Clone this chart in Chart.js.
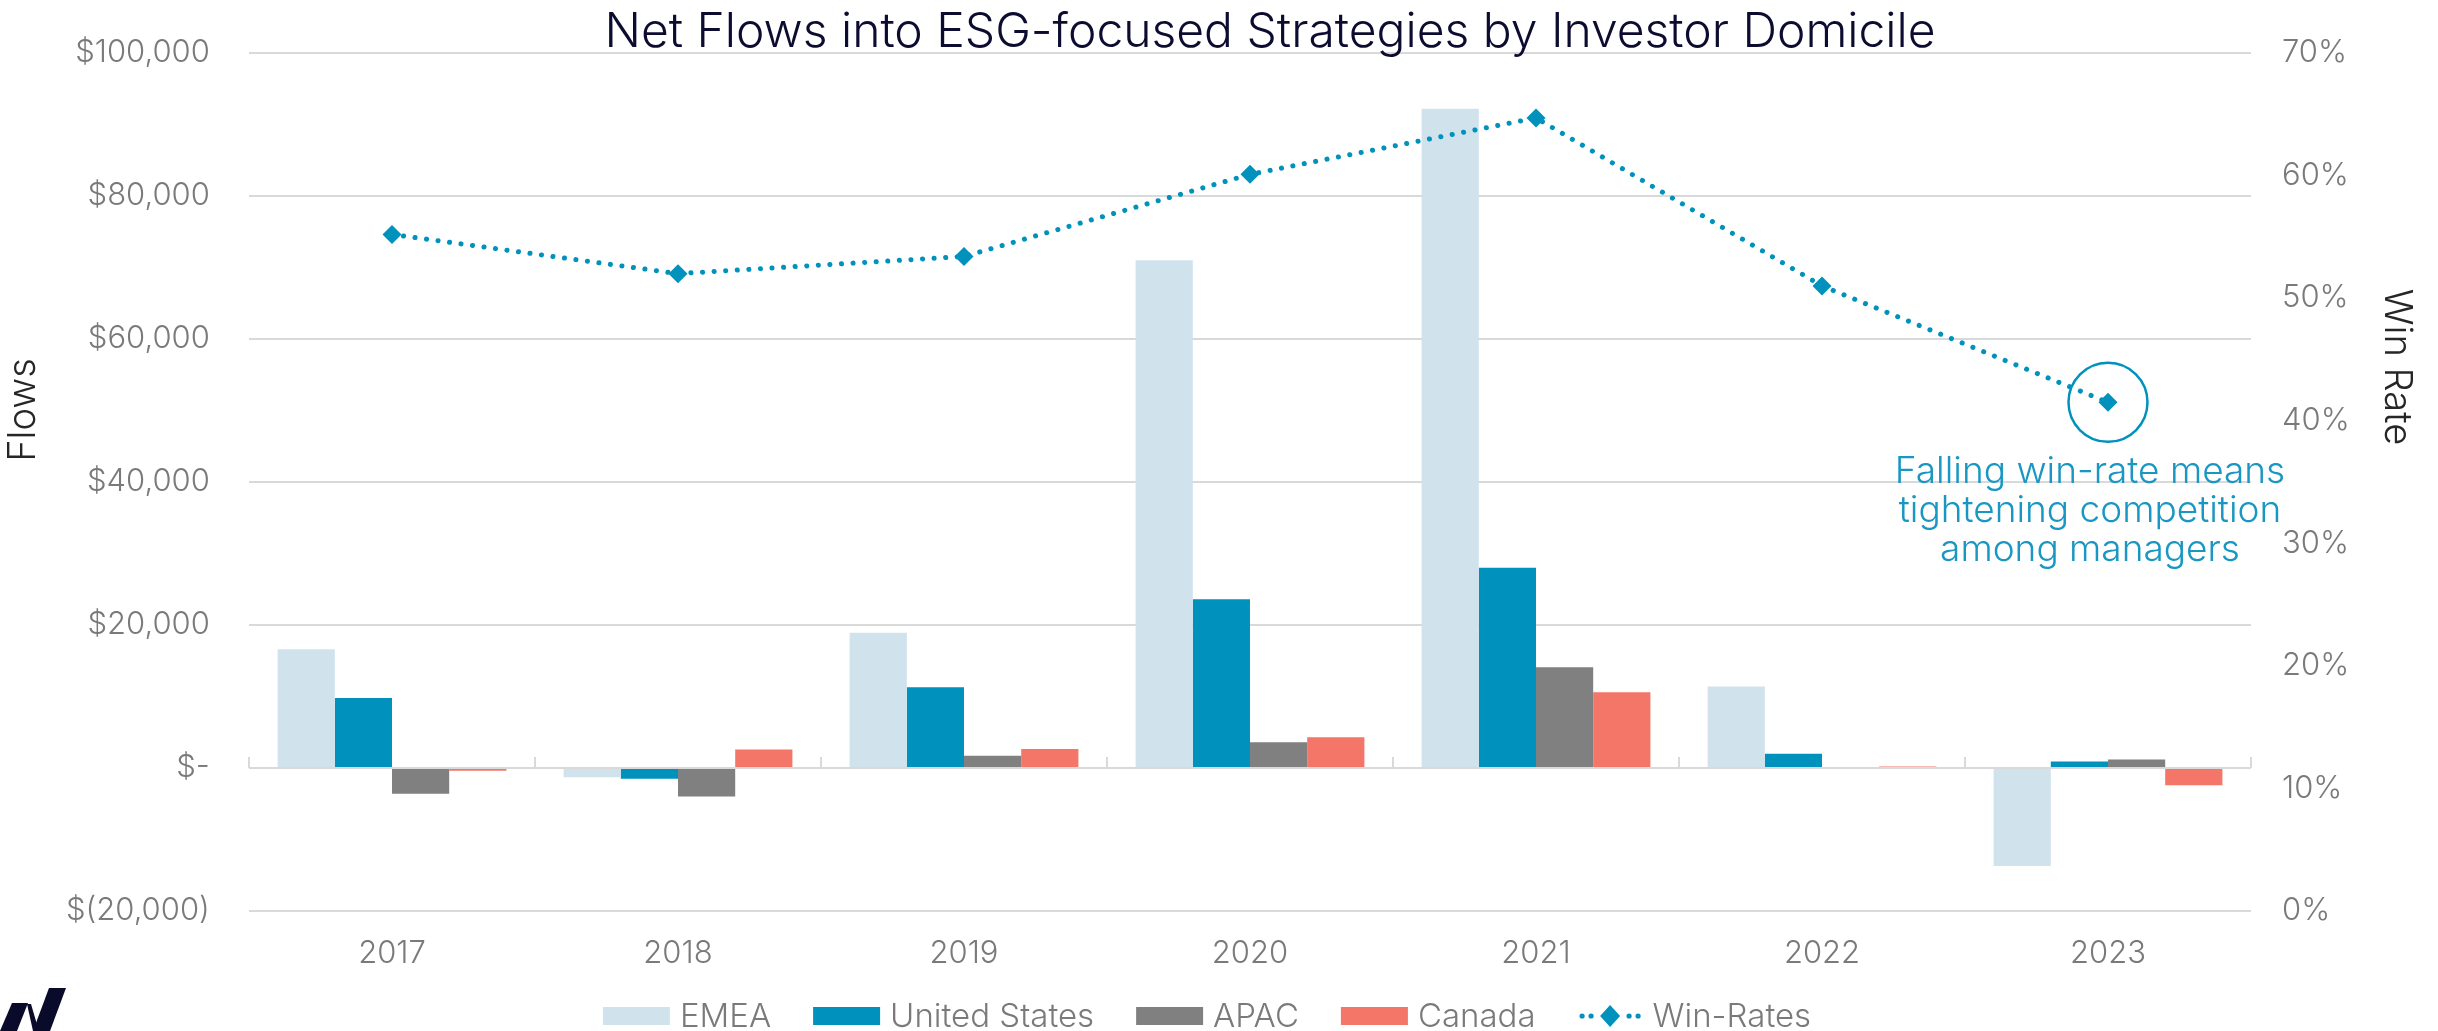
<!DOCTYPE html>
<html>
<head>
<meta charset="utf-8">
<script src="https://cdn.jsdelivr.net/npm/chart.js@4.4.1/dist/chart.umd.min.js"></script>
<style>
html,body{margin:0;padding:0;background:#fff;overflow:hidden}
canvas{display:block}
</style>
</head>
<body>
<canvas id="c" width="2438" height="1031"></canvas>
<script>
// ---------- data ----------
const categories = ['2017', '2018', '2019', '2020', '2021', '2022', '2023'];
const emea = [16600, -1300, 18900, 71000, 92200, 11400, -13700];
const unitedStates = [9800, -1500, 11300, 23600, 28000, 2000, 900];
const apac = [-3600, -4000, 1700, 3600, 14100, 0, 1200];
const canada = [-400, 2600, 2650, 4300, 10600, 200, -2400];
const winRates = [55.2, 52.0, 53.4, 60.1, 64.7, 51.0, 41.5];
const seriesNames = ['EMEA', 'United States', 'APAC', 'Canada', 'Win-Rates'];
const flowAxisRange = [-20000, 100000, 20000];
const winRateAxisRange = [0, 70, 10];
const titleText = 'Net Flows into ESG-focused Strategies by Investor Domicile';
const leftAxisTitle = 'Flows';
const rightAxisTitle = 'Win Rate';
const noteLines = ['Falling win-rate means', 'tightening competition', 'among managers'];

// ---------- styles ----------
const COLORS = { emea: '#d0e3ec', us: '#0091bd', apac: '#808080', canada: '#f37668', line: '#0092bc' };
const FONT = 'Inter, "Noto Sans", "DejaVu Sans", sans-serif';
const TICK_COLOR = '#7a7a7a';
const GRID_COLOR = '#d9d9d9';

function flowLabel(v) {
  let s;
  if (v === 0) s = '$-';
  else {
    const a = Math.abs(v).toLocaleString('en-US');
    s = v < 0 ? '$(' + a + ')' : '$' + a;
  }
  return s + '\u2006';
}

const decorPlugin = {
  id: 'decor',
  beforeDatasetsDraw(chart) {
    const ctx = chart.ctx, x = chart.scales.x, y = chart.scales.y;
    const y0 = y.getPixelForValue(0);
    const n = categories.length;
    ctx.save();
    ctx.strokeStyle = GRID_COLOR;
    ctx.lineWidth = 2;
    ctx.beginPath();
    for (let i = 0; i <= n; i++) {
      const bx = x.left + i * x.width / n;
      ctx.moveTo(bx, y0 - 11);
      ctx.lineTo(bx, y0);
    }
    ctx.stroke();
    ctx.restore();
  },
  afterDraw(chart) {
    const ctx = chart.ctx;
    ctx.save();
    // title
    ctx.fillStyle = '#0c0c30';
    ctx.font = '300 48px ' + FONT;
    ctx.textAlign = 'center';
    ctx.textBaseline = 'alphabetic';
    ctx.fillText(titleText, 1270, 47);

    // axis titles
    ctx.fillStyle = '#262626';
    ctx.font = '300 38px ' + FONT;
    ctx.textBaseline = 'middle';
    ctx.save();
    ctx.translate(24, 410);
    ctx.rotate(-Math.PI / 2);
    ctx.fillText(leftAxisTitle, 0, 0);
    ctx.restore();
    ctx.save();
    ctx.translate(2396, 367);
    ctx.rotate(Math.PI / 2);
    ctx.fillText(rightAxisTitle, 0, 0);
    ctx.restore();

    // annotation around last win-rate point
    const meta = chart.getDatasetMeta(4);
    const pt = meta.data[meta.data.length - 1];
    ctx.strokeStyle = COLORS.line;
    ctx.lineWidth = 2.5;
    ctx.beginPath();
    ctx.arc(pt.x, pt.y, 39.5, 0, Math.PI * 2);
    ctx.stroke();
    ctx.fillStyle = '#1996c2';
    ctx.font = '300 37px ' + FONT;
    ctx.textAlign = 'center';
    ctx.textBaseline = 'middle';
    noteLines.forEach((t, i) => ctx.fillText(t, pt.x - 18, pt.y + 70 + i * 39));

    // legend
    const items = chart.data.datasets.map(ds => ({
      label: ds.label,
      color: ds.type === 'line' ? ds.borderColor : ds.backgroundColor,
      line: ds.type === 'line'
    }));
    ctx.font = '300 33px ' + FONT;
    const swW = 67, swH = 18, lineW = 65, gapTxt = 10, gapItem = 42;
    let total = 0;
    items.forEach((it, i) => {
      it.tw = ctx.measureText(it.label).width;
      it.sw = it.line ? lineW : swW;
      total += it.sw + gapTxt + it.tw + (i ? gapItem : 0);
    });
    let lx = chart.width / 2 - 12 - total / 2;
    const ly = 1016;
    ctx.textAlign = 'left';
    ctx.textBaseline = 'middle';
    items.forEach(it => {
      if (it.line) {
        ctx.fillStyle = it.color;
        const cx = lx + it.sw / 2;
        [-28, -19, 19, 28].forEach(dx => {
          ctx.beginPath();
          ctx.arc(cx + dx, ly, 2.6, 0, Math.PI * 2);
          ctx.fill();
        });
        ctx.beginPath();
        ctx.moveTo(cx, ly - 11);
        ctx.lineTo(cx + 10, ly);
        ctx.lineTo(cx, ly + 11);
        ctx.lineTo(cx - 10, ly);
        ctx.closePath();
        ctx.fill();
      } else {
        ctx.fillStyle = it.color;
        ctx.fillRect(lx, ly - swH / 2, it.sw, swH);
      }
      ctx.fillStyle = TICK_COLOR;
      ctx.fillText(it.label, lx + it.sw + gapTxt, ly + 1);
      lx += it.sw + gapTxt + it.tw + gapItem;
    });

    // logo
    ctx.fillStyle = '#0a0a2a';
    const polys = [
      [[49, 988], [66, 988], [50, 1031], [33, 1031]],
      [[12, 1003], [28, 1003], [17, 1031], [0, 1031]],
      [[27, 1004], [31, 1004], [38, 1028], [33, 1031]]
    ];
    polys.forEach(p => {
      ctx.beginPath();
      p.forEach(([px, py], i) => i ? ctx.lineTo(px, py) : ctx.moveTo(px, py));
      ctx.closePath();
      ctx.fill();
    });
    ctx.restore();
  }
};

const barCommon = { type: 'bar', yAxisID: 'y', order: 1, categoryPercentage: 0.8, barPercentage: 1.0, borderWidth: 0 };

new Chart(document.getElementById('c'), {
  data: {
    labels: categories,
    datasets: [
      Object.assign({ label: seriesNames[0], data: emea, backgroundColor: COLORS.emea }, barCommon),
      Object.assign({ label: seriesNames[1], data: unitedStates, backgroundColor: COLORS.us }, barCommon),
      Object.assign({ label: seriesNames[2], data: apac, backgroundColor: COLORS.apac }, barCommon),
      Object.assign({ label: seriesNames[3], data: canada, backgroundColor: COLORS.canada }, barCommon),
      {
        type: 'line', label: seriesNames[4], data: winRates, yAxisID: 'y1', order: 0,
        borderColor: COLORS.line, backgroundColor: COLORS.line,
        borderWidth: 5, borderDash: [0.1, 11.5], borderCapStyle: 'round',
        pointStyle: 'rectRot', pointRadius: 9.5, pointBorderWidth: 0,
        pointBackgroundColor: COLORS.line, tension: 0, fill: false
      }
    ]
  },
  options: {
    responsive: false,
    animation: false,
    devicePixelRatio: 1,
    layout: { padding: { top: 53, left: 0, right: 0, bottom: 0 } },
    plugins: { legend: { display: false }, title: { display: false }, tooltip: { enabled: false } },
    scales: {
      x: {
        type: 'category',
        offset: true,
        grid: { display: false, drawTicks: false },
        border: { display: false },
        ticks: { color: TICK_COLOR, padding: 24, font: { family: FONT, size: 31, weight: 300 } },
        afterFit(s) { s.height = 120; }
      },
      y: {
        position: 'left',
        min: flowAxisRange[0], max: flowAxisRange[1],
        grid: { color: GRID_COLOR, lineWidth: 2, drawTicks: false },
        border: { display: false },
        ticks: { stepSize: flowAxisRange[2], color: TICK_COLOR, padding: 34, font: { family: FONT, size: 31, weight: 300 }, callback: flowLabel },
        afterFit(s) { s.width = 249; }
      },
      y1: {
        position: 'right',
        min: winRateAxisRange[0], max: winRateAxisRange[1],
        grid: { display: false, drawTicks: false },
        border: { display: false },
        ticks: { stepSize: winRateAxisRange[2], color: TICK_COLOR, padding: 31, font: { family: FONT, size: 31, weight: 300 }, callback: v => v + '%' },
        afterFit(s) { s.width = 187; }
      }
    }
  },
  plugins: [decorPlugin]
});
</script>
</body>
</html>
